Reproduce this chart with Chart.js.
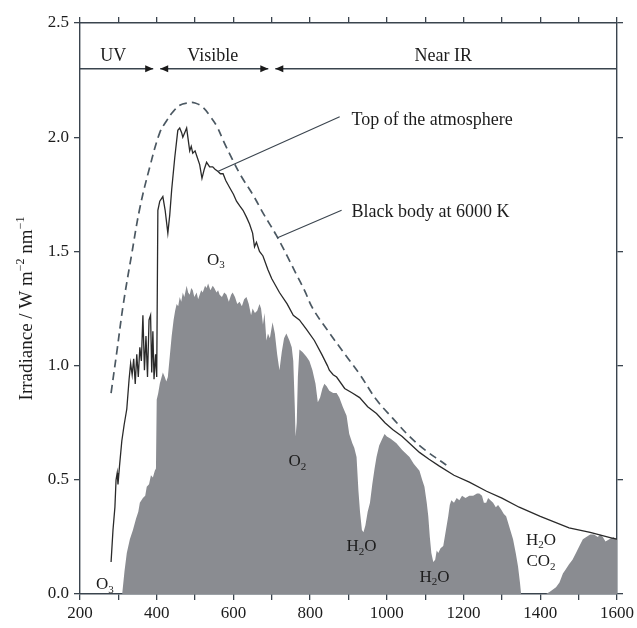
<!DOCTYPE html>
<html>
<head>
    <title>Solar irradiance spectrum</title>
    <script src="https://cdn.jsdelivr.net/npm/chart.js"></script>
    <style>
        body { margin: 0; background: #fff; }
        .chart-box { width: 637px; height: 628px; position: relative; }
    </style>
</head>
<body>
    <div class="chart-box">
        <canvas id="spectrumChart"></canvas>
    </div>

    <script>
        // black body at 6000 K (scaled), nm / W m-2 nm-1
        const bbWl  = [281, 296, 313, 335, 356, 382, 408, 425, 442, 460, 481, 500, 521, 540, 556, 575, 598, 620, 650, 680, 712, 740, 764, 785, 807, 843, 895, 930, 973, 1015, 1059, 1100, 1142, 1155];
        const bbVal = [0.88, 1.06, 1.27, 1.49, 1.69, 1.87, 2.02, 2.07, 2.11, 2.14, 2.15, 2.15, 2.13, 2.09, 2.05, 1.98, 1.90, 1.83, 1.75, 1.66, 1.57, 1.48, 1.40, 1.33, 1.25, 1.16, 1.04, 0.96, 0.85, 0.77, 0.69, 0.63, 0.58, 0.565];

        // top of the atmosphere
        const toaWl  = [281, 286, 291, 294, 297, 299, 303, 309, 315, 322, 328, 332, 336, 340, 344, 348, 352, 356, 360, 364, 368, 372, 376, 380, 384, 387, 390, 393, 397, 400,
                        403, 408, 416, 422, 429, 434, 439, 447, 455, 460, 465, 468, 473, 478, 486, 490, 494, 500, 504, 512, 518, 524, 530, 538, 546, 552, 560, 566, 573, 580,
                        590, 600, 608, 616, 625, 634, 642, 650, 655, 660, 668, 677, 690, 700, 720, 740, 756, 772, 790, 811, 830, 845, 850, 860, 869, 890, 910, 929, 950, 973,
                        995, 1015, 1040, 1059, 1085, 1110, 1137, 1175, 1215, 1260, 1300, 1345, 1400, 1475, 1530, 1587, 1600];
        const toaVal = [0.14, 0.28, 0.38, 0.50, 0.53, 0.48, 0.56, 0.67, 0.74, 0.81, 0.94, 1.01, 0.96, 1.03, 0.92, 1.05, 0.95, 1.08, 1.02, 1.22, 0.98, 1.13, 0.95, 1.20, 1.22, 0.97, 1.15, 0.94, 1.05, 0.95,
                        1.68, 1.72, 1.74, 1.68, 1.58, 1.66, 1.77, 1.91, 2.03, 2.04, 2.02, 2.00, 2.02, 2.04, 1.94, 1.96, 1.93, 1.94, 1.92, 1.88, 1.82, 1.86, 1.89, 1.87, 1.87, 1.86, 1.85, 1.84, 1.84, 1.81,
                        1.78, 1.75, 1.72, 1.70, 1.68, 1.65, 1.62, 1.58, 1.52, 1.54, 1.50, 1.48, 1.42, 1.38, 1.32, 1.27, 1.22, 1.20, 1.16, 1.11, 1.05, 1.00, 0.98, 0.96, 0.95, 0.90, 0.88, 0.86, 0.82, 0.79,
                        0.75, 0.72, 0.69, 0.66, 0.62, 0.59, 0.56, 0.52, 0.49, 0.45, 0.42, 0.38, 0.34, 0.29, 0.27, 0.245, 0.24];

        // at sea level (shaded)
        const seaWl  = [300, 310, 316, 322, 330, 338, 346, 352, 356, 364, 370, 374, 380, 385, 390, 395, 398, 400, 404, 408, 416, 421, 425, 429, 434, 439, 444, 448, 452, 456,
                        460, 464, 468, 472, 478, 482, 486, 490, 494, 498, 504, 508, 512, 516, 520, 526, 530, 534, 540, 546, 550, 556, 560, 564, 570, 576, 582, 588, 594, 598,
                        604, 610, 616, 622, 628, 634, 640, 646, 650, 656, 662, 668, 672, 677, 681, 686, 690, 695, 702, 708, 714, 720, 726, 732, 738, 746, 752, 756, 760, 762,
                        765, 768, 772, 780, 790, 798, 806, 814, 820, 826, 832, 837, 843, 850, 860, 869, 876, 885, 895, 902, 910, 915, 921, 926, 930, 935, 939, 944, 950, 956,
                        962, 968, 973, 980, 988, 994, 1000, 1010, 1025, 1040, 1059, 1070, 1085, 1092, 1098, 1104, 1108, 1112, 1116, 1121, 1126, 1130, 1134, 1140, 1147, 1154, 1160, 1164, 1168, 1175,
                        1182, 1189, 1196, 1205, 1215, 1225, 1235, 1241, 1248, 1253, 1259, 1264, 1270, 1277, 1284, 1290, 1298, 1305, 1311, 1320, 1329, 1336, 1342, 1347, 1350, 1415, 1425, 1433, 1441, 1450,
                        1459, 1467, 1475, 1484, 1493, 1502, 1511, 1520, 1530, 1540, 1550, 1556, 1563, 1570, 1580, 1590, 1600];
        const seaVal = [0, 0, 0.10, 0.18, 0.24, 0.28, 0.33, 0.36, 0.40, 0.42, 0.43, 0.47, 0.48, 0.52, 0.51, 0.54, 0.55, 0.85, 0.88, 0.92, 0.97, 0.95, 0.93, 0.95, 1.04, 1.13, 1.20, 1.24, 1.27, 1.26,
                        1.30, 1.28, 1.32, 1.30, 1.35, 1.32, 1.31, 1.34, 1.33, 1.30, 1.32, 1.29, 1.31, 1.33, 1.32, 1.35, 1.34, 1.36, 1.33, 1.35, 1.34, 1.32, 1.33, 1.31, 1.30, 1.32, 1.31, 1.28, 1.31, 1.32,
                        1.30, 1.27, 1.28, 1.26, 1.29, 1.30, 1.27, 1.22, 1.25, 1.23, 1.24, 1.27, 1.25, 1.18, 1.23, 1.11, 1.14, 1.12, 1.19, 1.14, 1.05, 0.98, 1.06, 1.12, 1.14, 1.11, 1.08, 1.02, 0.82, 0.69,
                        0.75, 0.95, 1.07, 1.06, 1.04, 1.02, 0.98, 0.92, 0.84, 0.86, 0.90, 0.92, 0.91, 0.89, 0.88, 0.88, 0.86, 0.82, 0.78, 0.70, 0.66, 0.64, 0.60, 0.45, 0.36, 0.28, 0.27, 0.30, 0.36, 0.40,
                        0.48, 0.55, 0.60, 0.65, 0.68, 0.70, 0.69, 0.68, 0.66, 0.63, 0.60, 0.57, 0.54, 0.50, 0.47, 0.40, 0.34, 0.25, 0.18, 0.14, 0.15, 0.19, 0.18, 0.20, 0.21, 0.28, 0.34, 0.39, 0.41, 0.40,
                        0.42, 0.41, 0.43, 0.42, 0.43, 0.43, 0.44, 0.44, 0.43, 0.40, 0.40, 0.42, 0.41, 0.40, 0.38, 0.39, 0.37, 0.35, 0.34, 0.29, 0.24, 0.18, 0.12, 0.05, 0, 0, 0.01, 0.02, 0.03, 0.05,
                        0.09, 0.11, 0.13, 0.15, 0.18, 0.21, 0.24, 0.25, 0.26, 0.26, 0.25, 0.26, 0.25, 0.23, 0.24, 0.25, 0.24];

        // spectral bands along the top
        const bandNames = ['UV', 'Visible', 'Near IR'];
        const bandEdges = [400, 700];

        const axisColor = '#3a444e';
        const textColor = '#1c1c1c';
        const serif = "'Liberation Serif', 'Times New Roman', serif";

        Chart.defaults.font.family = serif;
        Chart.defaults.color = textColor;

        const pts = (xs, ys) => xs.map((v, i) => ({ x: v, y: ys[i] }));

        // "H_2O" -> H, subscript 2, O
        function drawChem(ctx, str, cx, cy, size) {
            const parts = [];
            for (let i = 0; i < str.length; i++) {
                if (str[i] === '_') { parts.push({ t: str[i + 1], sub: true }); i++; }
                else parts.push({ t: str[i], sub: false });
            }
            const fontOf = p => (p.sub ? Math.round(size * 0.65) : size) + 'px ' + serif;
            let w = 0;
            parts.forEach(p => { ctx.font = fontOf(p); p.w = ctx.measureText(p.t).width; w += p.w; });
            let xx = cx - w / 2;
            parts.forEach(p => {
                ctx.font = fontOf(p);
                ctx.fillText(p.t, xx, cy + (p.sub ? size * 0.3 : 0));
                xx += p.w;
            });
        }

        const overlay = {
            id: 'overlay',
            afterDatasetsDraw(chart) {
                const { ctx, chartArea, scales: { x, y } } = chart;
                const px = v => x.getPixelForValue(v);
                const py = v => y.getPixelForValue(v);
                ctx.save();
                ctx.strokeStyle = axisColor;
                ctx.fillStyle = textColor;
                ctx.lineWidth = 1.4;

                // band divider line with arrows
                const by = py(2.3);
                const gap = 3.5, head = 8, half = 3.5;
                const tips = [];
                bandEdges.forEach(e => { tips.push(px(e) - gap, px(e) + gap); });
                const stops = [chartArea.left, ...tips, chartArea.right];
                ctx.beginPath();
                for (let i = 0; i < stops.length; i += 2) {
                    ctx.moveTo(stops[i], by);
                    ctx.lineTo(stops[i + 1], by);
                }
                ctx.stroke();
                ctx.fillStyle = '#1a1a1a';
                tips.forEach((t, i) => {
                    const dir = i % 2 === 0 ? 1 : -1;
                    ctx.beginPath();
                    ctx.moveTo(t, by);
                    ctx.lineTo(t - dir * head, by - half);
                    ctx.lineTo(t - dir * head, by + half);
                    ctx.closePath();
                    ctx.fill();
                });

                ctx.fillStyle = textColor;
                ctx.textBaseline = 'middle';
                ctx.textAlign = 'center';
                ctx.font = '18px ' + serif;
                const bandMid = [287, 546, 1147];
                bandNames.forEach((n, i) => ctx.fillText(n, px(bandMid[i]), py(2.355)));

                // leader lines + curve labels
                ctx.lineWidth = 1.1;
                ctx.beginPath();
                ctx.moveTo(px(877), py(2.09)); ctx.lineTo(px(559), py(1.85));
                ctx.moveTo(px(882), py(1.68)); ctx.lineTo(px(715), py(1.56));
                ctx.stroke();
                ctx.textAlign = 'left';
                ctx.font = '18px ' + serif;
                ctx.fillText('Top of the atmosphere', px(908), py(2.075));
                ctx.fillText('Black body at 6000 K', px(908), py(1.672));

                // absorbers
                const chem = [['O_3', 554, 1.462], ['O_3', 265, 0.04], ['O_2', 767, 0.578],
                              ['H_2O', 934, 0.206], ['H_2O', 1124, 0.074], ['H_2O', 1402, 0.236], ['CO_2', 1402, 0.14]];
                chem.forEach(([s, wl, v]) => drawChem(ctx, s, px(wl), py(v), 17));

                // y axis title with superscripts
                ctx.translate(27, (chartArea.top + chartArea.bottom) / 2);
                ctx.rotate(-Math.PI / 2);
                const pieces = [['Irradiance / W m', false], ['\u22122', true], [' nm', false], ['\u22121', true]];
                const fOf = sup => (sup ? '12px ' : '19px ') + serif;
                let tw = 0;
                pieces.forEach(p => { ctx.font = fOf(p[1]); tw += ctx.measureText(p[0]).width; });
                let tx = -tw / 2;
                pieces.forEach(p => {
                    ctx.font = fOf(p[1]);
                    ctx.fillText(p[0], tx, p[1] ? -6 : 0);
                    tx += ctx.measureText(p[0]).width;
                });
                ctx.restore();
            }
        };

        const tickFont = { size: 17, family: serif };
        const gridOpts = { drawOnChartArea: false, drawTicks: true, tickLength: 6, color: axisColor, lineWidth: 1.3 };
        const borderOpts = { color: axisColor, width: 1.4 };

        new Chart(document.getElementById('spectrumChart'), {
            type: 'line',
            data: {
                datasets: [
                    { label: 'Sea level', data: pts(seaWl, seaVal), fill: 'origin', backgroundColor: '#8a8c91',
                      borderWidth: 0, pointRadius: 0, order: 3 },
                    { label: 'Top of the atmosphere', data: pts(toaWl, toaVal), borderColor: '#2a2a2a',
                      borderWidth: 1.3, pointRadius: 0, fill: false, order: 2 },
                    { label: 'Black body at 6000 K', data: pts(bbWl, bbVal), borderColor: '#4b5862',
                      borderDash: [8, 5], borderWidth: 1.7, pointRadius: 0, fill: false, tension: 0.4, order: 1 }
                ]
            },
            options: {
                responsive: true,
                maintainAspectRatio: false,
                animation: false,
                layout: { padding: 0 },
                plugins: { legend: { display: false }, tooltip: { enabled: false } },
                scales: {
                    x: {
                        type: 'linear', position: 'bottom', min: 200, max: 1600,
                        ticks: { stepSize: 100, autoSkip: false, maxRotation: 0, padding: 3, font: tickFont, color: textColor,
                                 callback: v => (v % 200 === 0 ? v : '') },
                        grid: gridOpts, border: borderOpts,
                        afterFit: s => { s.height = 34; }
                    },
                    x2: {
                        type: 'linear', axis: 'x', position: 'top', min: 200, max: 1600,
                        ticks: { stepSize: 100, display: false },
                        grid: gridOpts, border: borderOpts,
                        afterFit: s => { s.height = 23; }
                    },
                    y: {
                        position: 'left', min: 0, max: 2.5,
                        ticks: { stepSize: 0.5, padding: 5, font: tickFont, color: textColor, callback: v => v.toFixed(1) },
                        grid: gridOpts, border: borderOpts,
                        afterFit: s => { s.width = 80; }
                    },
                    y2: {
                        position: 'right', min: 0, max: 2.5,
                        ticks: { stepSize: 0.5, display: false },
                        grid: gridOpts, border: borderOpts,
                        afterFit: s => { s.width = 19; }
                    }
                }
            },
            plugins: [overlay]
        });
    </script>
</body>
</html>
